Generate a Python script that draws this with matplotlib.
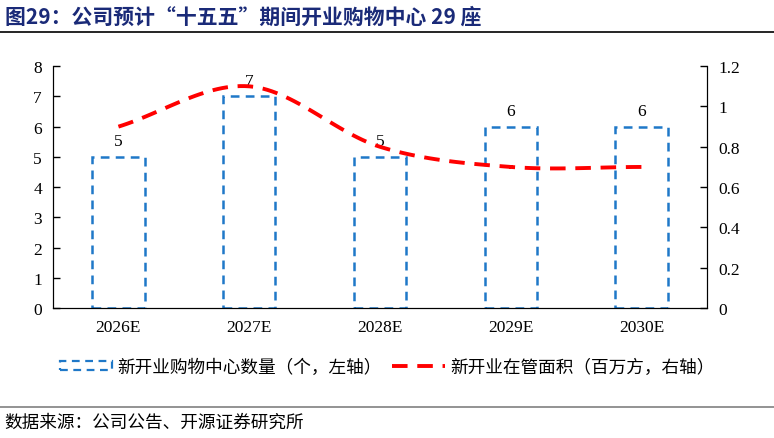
import numpy as np
import matplotlib
matplotlib.use("Agg")
import matplotlib.pyplot as plt
from matplotlib.patches import Patch
from matplotlib.lines import Line2D

plt.rcParams['font.family'] = ['Liberation Serif', 'Noto Sans CJK SC']
CJK = ['Noto Sans CJK SC', 'DejaVu Sans']

# data
years = ['2026E', '2027E', '2028E', '2029E', '2030E']
mall_count = [5, 7, 5, 6, 6]          # left axis, 座
mall_area = [0.9, 1.1, 0.8, 0.7, 0.7]  # right axis, 百万方

blue = '#1F78C8'
red = '#FF0000'

fig = plt.figure(figsize=(7.74, 4.39), dpi=100)
ax = fig.add_axes([0.0685, 0.296, 0.845, 0.551])
ax2 = ax.twinx()

x = np.arange(len(years))
bars = ax.bar(x, mall_count, width=0.4, facecolor='none', edgecolor=blue,
              linewidth=1.8, linestyle=(0, (3.5, 2.5)), zorder=2)
for b, v in zip(bars, mall_count):
    ax.text(b.get_x() + b.get_width() / 2, v + 0.25, f'{v}', ha='center',
            va='bottom', fontsize=12.5)

# smooth line (catmull-rom through the data points)
def smooth(xs, ys, n=30):
    xs = np.asarray(xs, float)
    ys = np.asarray(ys, float)
    px = np.concatenate([[2 * xs[0] - xs[1]], xs, [2 * xs[-1] - xs[-2]]])
    py = np.concatenate([[2 * ys[0] - ys[1]], ys, [2 * ys[-1] - ys[-2]]])
    ox, oy = [], []
    t = np.linspace(0, 1, n)
    for i in range(1, len(px) - 2):
        for p, out in ((px, ox), (py, oy)):
            p0, p1, p2, p3 = p[i - 1], p[i], p[i + 1], p[i + 2]
            out.extend(0.5 * (2 * p1 + (-p0 + p2) * t
                              + (2 * p0 - 5 * p1 + 4 * p2 - p3) * t ** 2
                              + (-p0 + 3 * p1 - 3 * p2 + p3) * t ** 3))
    return np.array(ox), np.array(oy)

sx, sy = smooth(x, mall_area)
ax2.plot(sx, sy, color=red, linewidth=2.8, linestyle=(0, (4, 2.5)), zorder=3)

ax.set_xlim(-0.5, len(years) - 0.5)
ax.set_ylim(0, 8)
ax2.set_ylim(0, 1.2)
ax.set_yticks(range(0, 9))
ax2.set_yticks([0, 0.2, 0.4, 0.6, 0.8, 1.0, 1.2])
ax2.set_yticklabels(['0', '0.2', '0.4', '0.6', '0.8', '1', '1.2'])
ax.set_xticks(x)
ax.set_xticklabels(years)

for a in (ax, ax2):
    a.spines['top'].set_visible(False)
    a.tick_params(labelsize=12.5, length=5, width=1, direction='in')
ax.tick_params(axis='x', length=0, pad=8)
ax.tick_params(axis='y', pad=8)
ax2.tick_params(axis='y', pad=8)
ax.set_zorder(ax2.get_zorder() - 1)
ax2.patch.set_visible(False)
ax.patch.set_visible(False)

# legend
handles = [Patch(facecolor='none', edgecolor=blue, linewidth=1.6, linestyle=(0, (3.5, 2.5))),
           Line2D([0], [0], color=red, linewidth=2.8, linestyle=(0, (4, 2.5)))]
labels = ['新开业购物中心数量（个，左轴）', '新开业在管面积（百万方，右轴）']
fig.legend(handles, labels, loc='center', bbox_to_anchor=(0.5, 0.162), ncol=2,
           frameon=False, prop={'family': CJK, 'size': 12.7},
           handlelength=3.0, handleheight=0.45, columnspacing=0.55, handletextpad=0.3)

# title and source
fig.text(0.006, 0.962, '图29：公司预计“十五五”期间开业购物中心 29 座', ha='left', va='center',
         fontsize=15, fontweight='bold', color='#1A2A78', family=CJK)
fig.add_artist(Line2D([0, 1], [0.925, 0.925], color='black', linewidth=1.2))
fig.add_artist(Line2D([0, 1], [0.07, 0.07], color='#808080', linewidth=1.2))
fig.text(0.005, 0.036, '数据来源：公司公告、开源证券研究所', ha='left', va='center',
         fontsize=12.7, family=CJK)

fig.savefig('out.png', dpi=100)
